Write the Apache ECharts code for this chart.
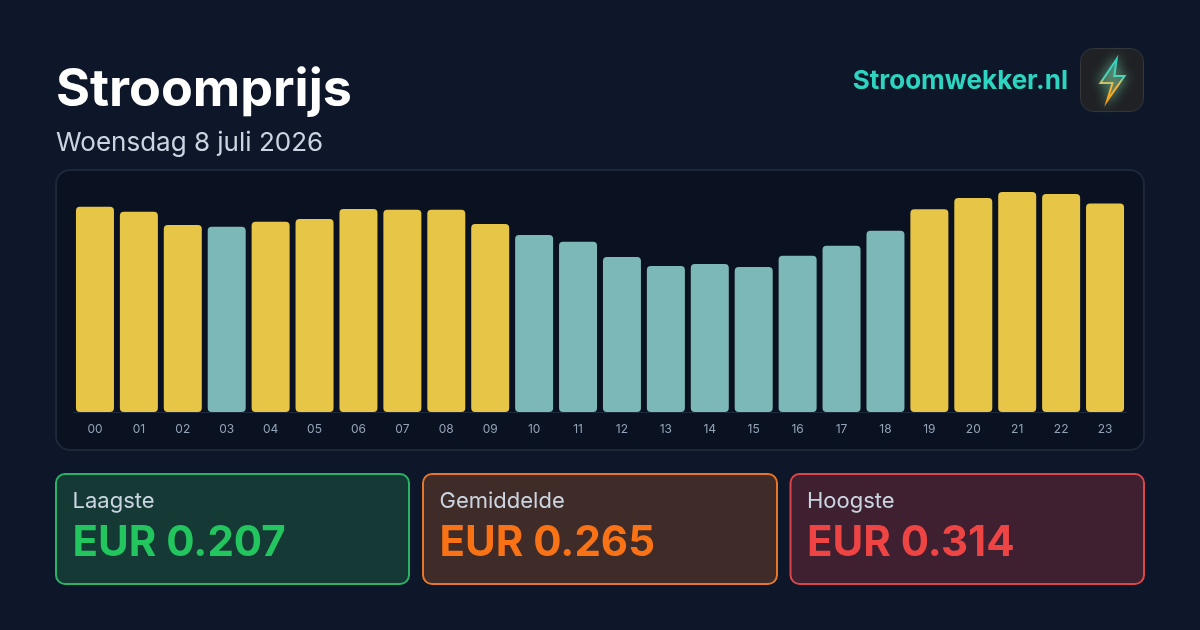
<!DOCTYPE html>
<html><head><meta charset="utf-8">
<style>html,body{margin:0;padding:0;background:#0d1729}#c{width:1200px;height:630px}</style>
<script src="https://cdn.jsdelivr.net/npm/echarts@6/dist/echarts.min.js"></script>
</head><body><div id="c"></div>
<script>
const hours = ['00','01','02','03','04','05','06','07','08','09','10','11','12','13','14','15','16','17','18','19','20','21','22','23'];
const prices = [0.2930,0.2858,0.2669,0.2643,0.2716,0.2755,0.2897,0.2886,0.2886,0.2683,0.2526,0.2430,0.2212,0.2084,0.2112,0.2070,0.2230,0.2373,0.2587,0.2893,0.3054,0.3140,0.3111,0.2976];
const average = 0.265;
const statLabels = ['Laagste','Gemiddelde','Hoogste'];
const statValues = ['EUR 0.207','EUR 0.265','EUR 0.314'];
const titleText = 'Stroomprijs', subtitleText = 'Woensdag 8 juli 2026', brandText = 'Stroomwekker.nl';

const F = 'Inter';
const cardStyles = [
  {x:56, w:353,fill:'#153a35', stroke:'#2bb264', color:'#22c55e'},
  {x:423,w:354,fill:'#3f2b27', stroke:'#e5762a', color:'#f97316'},
  {x:790.5,w:353.5,fill:'#3e2030', stroke:'#dc4549', color:'#ef4444'}
];
const graphics = [
  {type:'rect',z:-10,silent:true,shape:{x:0,y:0,width:1200,height:630},style:{fill:'#0d1729'}},
  {type:'rect',z:-5,silent:true,shape:{x:56,y:170,width:1088,height:280,r:14},style:{fill:'#0a1120',stroke:'#1c2739',lineWidth:2}},
  {type:'text',x:56,y:90,z:5,style:{text:titleText,font:'700 52px '+F,fill:'#ffffff',textVerticalAlign:'middle'}},
  {type:'text',x:56,y:143,z:5,style:{text:subtitleText,font:'400 26px '+F,fill:'#cbd5e1',textVerticalAlign:'middle'}},
  {type:'text',x:1068,y:81,z:5,style:{text:brandText,font:'700 26px '+F,fill:'#2dd4bf',textAlign:'right',textVerticalAlign:'middle'}},
  {type:'rect',z:3,silent:true,shape:{x:1080.5,y:48.5,width:63,height:63,r:13},style:{fill:'#1f2124',stroke:'#33363b',lineWidth:1}},
  {type:'polygon',z:4,silent:true,shape:{points:[[1116.7,59],[1100.5,83],[1112.5,83],[1107,101],[1124.5,76],[1114.3,76]]},
   style:{fill:{type:'linear',x:0,y:0,x2:0,y2:1,colorStops:[{offset:0,color:'rgba(45,212,191,0.55)'},{offset:0.5,color:'rgba(110,130,100,0.4)'},{offset:1,color:'rgba(245,158,11,0.6)'}]},
          stroke:{type:'linear',x:0,y:0,x2:0,y2:1,colorStops:[{offset:0,color:'#2dd4bf'},{offset:0.45,color:'#4fd4b8'},{offset:0.6,color:'#f5b942'},{offset:1,color:'#f59e0b'}]},
          lineWidth:2,shadowBlur:12,shadowColor:'rgba(110,200,160,1)'}}
];
cardStyles.forEach((c,i)=>{
  graphics.push({type:'rect',z:1,silent:true,shape:{x:c.x,y:474,width:c.w,height:110,r:9},style:{fill:c.fill,stroke:c.stroke,lineWidth:2}});
  graphics.push({type:'text',x:c.x+16.5,y:501,z:5,style:{text:statLabels[i],font:'400 22px '+F,fill:'#cbd5e1',textVerticalAlign:'middle'}});
  graphics.push({type:'text',x:c.x+16.5,y:543,z:5,style:{text:statValues[i],font:'700 42px '+F,fill:c.color,textVerticalAlign:'middle'}});
});
const chart = echarts.init(document.getElementById('c'),null,{renderer:'canvas',width:1200,height:630});
chart.setOption({
  animation:false,
  backgroundColor:'transparent',
  grid:{left:73,width:1054,top:192,height:220},
  xAxis:{type:'category',data:hours,
    axisLine:{show:true,lineStyle:{color:'#1e293b',width:1}},axisTick:{show:false},
    axisLabel:{color:'#94a3b8',fontFamily:F,fontSize:12,margin:11,interval:0}},
  yAxis:{type:'value',min:0,max:0.314,show:false,splitLine:{show:false}},
  graphic:graphics,
  series:[{type:'bar',data:prices,barWidth:38,z:3,
    itemStyle:{borderRadius:4,color:p=>p.value<average?'#7db8b8':'#e7c547'}}]
});
</script></body></html>
